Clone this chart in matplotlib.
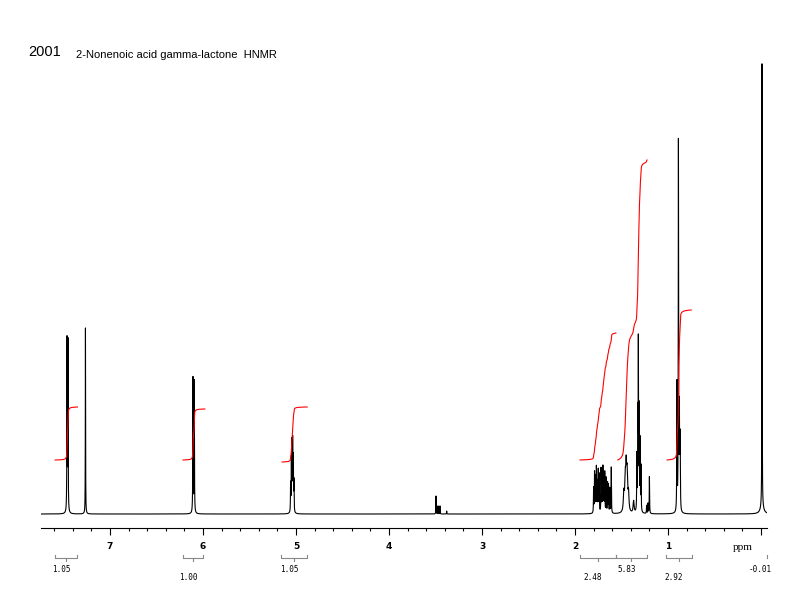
import matplotlib.pyplot as plt
import numpy as np

# peak lists (ppm, height above baseline, half width)
aro_ppm = [7.462, 7.452]
aro_h = [172, 170]
chcl3_ppm = [7.264]
chcl3_h = [186]
olef_ppm = [6.108, 6.094]
olef_h = [135, 132]
ch_ppm = [5.058, 5.050, 5.043, 5.036, 5.029, 5.022]
ch_h = [28, 50, 66, 68, 52, 30]
imp_ppm = [3.495, 3.473, 3.452, 3.38]
imp_h = [18, 8, 8, 3]
m17_ppm = [1.80, 1.79, 1.78, 1.77, 1.76, 1.75, 1.74, 1.72, 1.71, 1.70,
           1.69, 1.68, 1.665, 1.65, 1.64, 1.625, 1.61]
m17_h = [25, 40, 35, 45, 30, 42, 38, 44, 30, 45, 38, 40, 35, 30, 28, 25, 46]
hump_ppm = [1.475, 1.46, 1.45, 1.44, 1.425, 1.37]
hump_h = [18, 30, 40, 34, 18, 12]
ch2_ppm = [1.335, 1.325, 1.319, 1.31, 1.30, 1.29, 1.23, 1.215, 1.20]
ch2_h = [55, 90, 164, 100, 70, 45, 8, 10, 37]
me_ppm = [0.904, 0.888, 0.878, 0.872, 0.868]
me_h = [128, 369, 95, 60, 48]
tms_ppm = [-0.011, -0.011]
tms_h = [444, 7]

# integral regions: start, end (ppm), level before and after
int_start = [7.59, 6.215, 5.15, 1.946, 1.54, 1.01]
int_end = [7.35, 5.98, 4.88, 1.56, 1.226, 0.75]
int_low = [54, 54, 52, 54, 54, 54]
int_high = [107, 105, 107, 181, 354, 204]

# integral values printed under the axis
int_labels = ["1.05", "1.00", "1.05", "2.48", "5.83", "2.92", "-0.01"]
int_label_ppm = [7.527, 6.161, 5.075, 1.806, 1.441, 0.935, 0.011]
int_label_row = [0, 1, 0, 1, 0, 1, 0]
bracket_from = [7.591, 6.215, 5.161, 1.946, 1.559, 1.022]
bracket_to = [7.355, 6.0, 4.882, 1.559, 1.226, 0.742]

x = np.linspace(7.742, -0.065, 40000)


def lorentz(ppm, h, w):
    out = np.zeros_like(x)
    for p, hh, ww in zip(ppm, h, w):
        out += hh / (1 + ((x - p) / ww) ** 2)
    return out


groups = [
    (aro_ppm, aro_h, 0.002),
    (chcl3_ppm, chcl3_h, 0.0015),
    (olef_ppm, olef_h, 0.002),
    (ch_ppm, ch_h, 0.002),
    (imp_ppm, imp_h, 0.0015),
    (m17_ppm, m17_h, 0.002),
    (hump_ppm, hump_h, 0.006),
    (ch2_ppm, ch2_h, 0.002),
    (me_ppm, me_h, 0.002),
]
spec = np.zeros_like(x)
for ppm, h, w in groups:
    spec += lorentz(ppm, h, [w] * len(ppm))
spec += lorentz(tms_ppm, tms_h, [0.0015, 0.02])

fig = plt.figure(figsize=(8, 6), dpi=100)
ax = fig.add_axes([41 / 800, 72 / 600, 726 / 800, 478 / 600])
ax.plot(x, spec, color='black', lw=0.8)

# integral curves
for a, b, lo, hi in zip(int_start, int_end, int_low, int_high):
    m = (x <= a) & (x >= b)
    xs = x[m]
    cum = np.cumsum(spec[m])
    cum = (cum - cum[0]) / (cum[-1] - cum[0])
    ax.plot(xs, lo + cum * (hi - lo), color='red', lw=0.8)

# brackets and numbers below the axis
for a, b in zip(bracket_from, bracket_to):
    ax.plot([a, a, b, b], [-41, -44, -44, -41], color='#888888', lw=0.8, clip_on=False)
    c = (a + b) / 2
    ax.plot([c, c], [-44, -47], color='#888888', lw=0.8, clip_on=False)
ax.plot([-0.065, -0.065], [-41, -44], color='#888888', lw=0.8, clip_on=False)
for lab, p, r in zip(int_labels, int_label_ppm, int_label_row):
    ax.text(p, -55 - 9 * r, lab, ha='center', va='center', fontsize=5.5,
            family='DejaVu Sans Mono')

ax.text(0.2, -33, 'ppm', ha='center', va='center', fontsize=8, family='Liberation Serif')

ax.set_xlim(7.742, -0.0645)
ax.set_ylim(-14, 464)
for s in ['left', 'right', 'top']:
    ax.spines[s].set_visible(False)
ax.spines['bottom'].set_linewidth(0.8)
ax.set_yticks([])
ax.set_xticks(range(0, 8))
ax.set_xticklabels([''] + [str(i) for i in range(1, 8)])
ax.set_xticks(np.arange(0, 7.8, 0.2), minor=True)
ax.tick_params(axis='x', which='major', length=5, width=0.8, pad=5, labelsize=6.5)
ax.tick_params(axis='x', which='minor', length=2.5, width=0.8)
for t in ax.get_xticklabels():
    t.set_fontweight('bold')

fig.text(28 / 800, 1 - 52 / 600, '2001', fontsize=10.5, family='Liberation Sans', va='center')
fig.text(76 / 800, 1 - 55 / 600, '2-Nonenoic acid gamma-lactone  HNMR', fontsize=8,
         family='Liberation Sans', va='center')

fig.savefig('out.png', dpi=100)
